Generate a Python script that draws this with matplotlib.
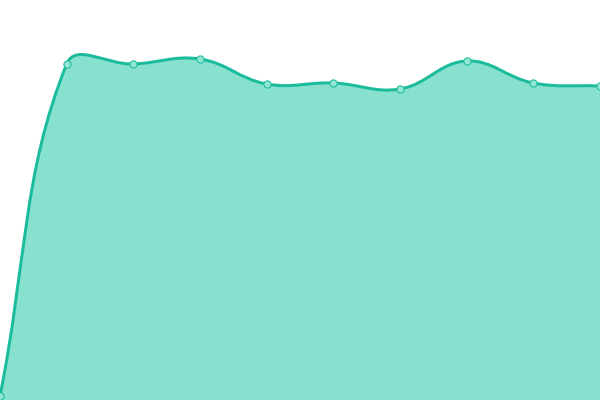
import numpy as np
import matplotlib
matplotlib.use("Agg")
import matplotlib.pyplot as plt
from matplotlib.path import Path
from matplotlib.patches import PathPatch

categories = list(range(10))
values = [4, 336, 336, 341, 316, 317, 311, 339, 317, 314]

LINE = "#1abc9c"
FILL = "#88e0cf"
MARKER_FILL = "#93e6d4"
XSTEP = 600 / 9  # pixel spacing used for spline geometry
TENSION = 0.4


def spline_path(xs, ys, t=TENSION):
    pts = np.column_stack([xs * XSTEP, ys])
    n = len(pts)
    prev_cp, next_cp = [], []
    for i in range(n):
        cur = pts[i]
        prev = pts[i - 1] if i > 0 else cur
        nxt = pts[i + 1] if i < n - 1 else cur
        d01 = np.hypot(*(cur - prev))
        d12 = np.hypot(*(nxt - cur))
        s = d01 + d12
        s01 = d01 / s if s else 0
        s12 = d12 / s if s else 0
        fa, fb = t * s01, t * s12
        prev_cp.append(cur - fa * (nxt - prev))
        next_cp.append(cur + fb * (nxt - prev))
    verts = [tuple(pts[0])]
    codes = [Path.MOVETO]
    for i in range(1, n):
        verts += [tuple(next_cp[i - 1]), tuple(prev_cp[i]), tuple(pts[i])]
        codes += [Path.CURVE4] * 3
    verts = [(x / XSTEP, y) for x, y in verts]
    return verts, codes


fig = plt.figure(figsize=(6, 4), dpi=100)
ax = fig.add_axes([0, 0, 1, 1])
xs = np.array(categories, dtype=float)
ys = np.array(values, dtype=float)
verts, codes = spline_path(xs, ys)

fverts = verts + [(xs[-1], 0), (xs[0], 0), (xs[0], ys[0])]
fcodes = codes + [Path.LINETO, Path.LINETO, Path.CLOSEPOLY]
ax.add_patch(PathPatch(Path(fverts, fcodes), facecolor=FILL, edgecolor="none", zorder=1))
ax.add_patch(PathPatch(Path(verts, codes), facecolor="none", edgecolor=LINE, lw=2.16, zorder=2,
                       capstyle="butt", joinstyle="miter"))
ax.plot(xs, ys, "o", ms=5.2, mfc=MARKER_FILL, mec=LINE, mew=0.75, zorder=3, clip_on=False)

ax.set_xlim(0, 600 / XSTEP)
ax.set_ylim(0, 400)
ax.axis("off")
fig.savefig("out.png", dpi=100)
